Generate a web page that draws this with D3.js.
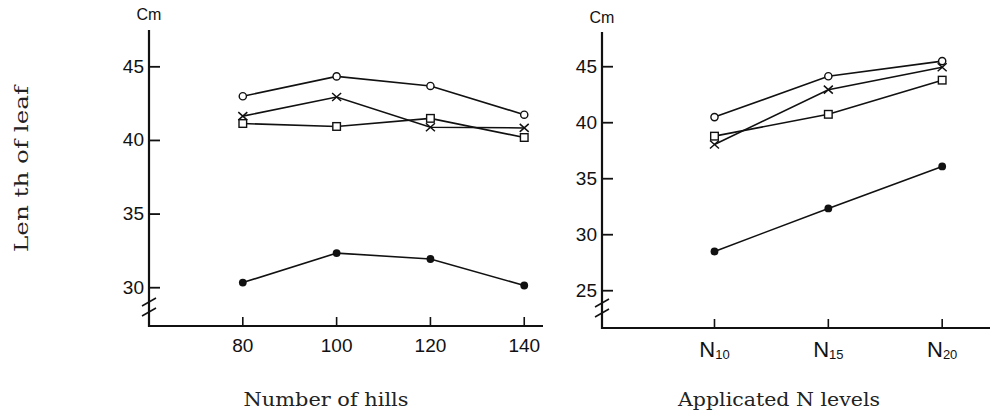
<!DOCTYPE html>
<html>
<head>
<meta charset="utf-8">
<script src="https://cdn.jsdelivr.net/npm/d3@7"></script>
<style>
  body { margin: 0; background: #fff; }
  svg { display: block; }
  .tick-label { font-family: "Liberation Sans Narrow", "Liberation Sans", sans-serif; font-size: 19px; fill: #111; }
  .title { font-family: "DejaVu Serif", "Liberation Serif", serif; font-size: 19px; fill: #222; }
</style>
</head>
<body>
<svg id="chart" width="994" height="417"></svg>
<script>
// left panel: number of hills
const hills = [80, 100, 120, 140];
const hillsCircle = [43.0, 44.35, 43.7, 41.75];
const hillsCross = [41.65, 42.95, 40.9, 40.85];
const hillsSquare = [41.15, 40.95, 41.5, 40.2];
const hillsFilled = [30.35, 32.35, 31.95, 30.15];
const hillsYTicks = [30, 35, 40, 45];

// right panel: applicated N levels
const nLevels = [10, 15, 20];
const nLabels = ["10", "15", "20"];
const nCircle = [40.5, 44.15, 45.5];
const nCross = [38.05, 42.95, 44.95];
const nSquare = [38.8, 40.75, 43.8];
const nFilled = [28.5, 32.35, 36.1];
const nYTicks = [25, 30, 35, 40, 45];

const svg = d3.select("#chart");

function drawMarker(g, type, cx, cy) {
  if (type === "circle") {
    g.append("circle").attr("cx", cx).attr("cy", cy).attr("r", 3.6)
      .attr("fill", "#fff").attr("stroke", "#111").attr("stroke-width", 1.4);
  } else if (type === "filled") {
    g.append("circle").attr("cx", cx).attr("cy", cy).attr("r", 3.9)
      .attr("fill", "#111");
  } else if (type === "square") {
    g.append("rect").attr("x", cx - 3.8).attr("y", cy - 3.8)
      .attr("width", 7.6).attr("height", 7.6)
      .attr("fill", "#fff").attr("stroke", "#111").attr("stroke-width", 1.4);
  } else if (type === "cross") {
    g.append("path")
      .attr("d", `M${cx - 4.5},${cy - 4}L${cx + 4.5},${cy + 4}M${cx - 4.5},${cy + 4}L${cx + 4.5},${cy - 4}`)
      .attr("stroke", "#111").attr("stroke-width", 1.5).attr("fill", "none");
  }
}

function drawPanel(opts) {
  const x = d3.scaleLinear().domain(opts.xDomain).range(opts.xRange);
  const y = d3.scaleLinear().domain(opts.yDomain).range(opts.yRange);
  const g = svg.append("g");
  const x0 = opts.xRange[0], yBase = opts.yRange[0];

  // y axis
  g.append("line").attr("x1", x0).attr("x2", x0)
    .attr("y1", opts.yRange[1]).attr("y2", yBase + 1)
    .attr("stroke", "#111").attr("stroke-width", 2.2);
  // x axis
  g.append("line").attr("x1", x0 - 1).attr("x2", opts.xRange[1])
    .attr("y1", yBase).attr("y2", yBase)
    .attr("stroke", "#111").attr("stroke-width", 2.2);

  // y ticks
  opts.yTicks.forEach(t => {
    g.append("line").attr("x1", x0).attr("x2", x0 + 11)
      .attr("y1", y(t)).attr("y2", y(t))
      .attr("stroke", "#111").attr("stroke-width", 1.8);
    g.append("text").attr("class", "tick-label")
      .attr("x", x0 - 5).attr("y", y(t) + 6)
      .attr("text-anchor", "end").text(t);
  });

  // x ticks
  opts.xTicks.forEach((t, i) => {
    g.append("line").attr("x1", x(t)).attr("x2", x(t))
      .attr("y1", yBase).attr("y2", yBase - 9)
      .attr("stroke", "#111").attr("stroke-width", 1.6);
    const lab = g.append("text").attr("class", "tick-label")
      .attr("x", x(t)).attr("y", yBase + opts.labelDy)
      .attr("text-anchor", "middle");
    if (opts.subLabels) {
      lab.append("tspan").text("N").style("font-size", "22px");
      lab.append("tspan").text(opts.subLabels[i])
        .attr("dy", 2).style("font-size", "13px");
    } else {
      lab.text(t);
    }
  });

  // axis break
  opts.breaks.forEach(b => {
    g.append("line").attr("x1", x0 - 7).attr("x2", x0 + 7)
      .attr("y1", b + 4).attr("y2", b - 4)
      .attr("stroke", "#111").attr("stroke-width", 1.6);
  });

  // unit label
  g.append("text").attr("class", "tick-label")
    .attr("x", x0).attr("y", opts.unitY)
    .attr("text-anchor", "middle").style("font-size", "16px").text("Cm");

  const line = d3.line().x(d => x(d[0])).y(d => y(d[1]));
  opts.series.forEach(s => {
    const pts = opts.xTicks.map((v, i) => [v, s.values[i]]);
    g.append("path").datum(pts).attr("d", line)
      .attr("fill", "none").attr("stroke", "#111").attr("stroke-width", 1.6);
  });
  opts.series.forEach(s => {
    opts.xTicks.forEach((v, i) => drawMarker(g, s.type, x(v), y(s.values[i])));
  });

  g.append("text").attr("class", "title")
    .attr("x", opts.titleX).attr("y", 406)
    .attr("text-anchor", "middle")
    .attr("textLength", opts.titleLen).attr("lengthAdjust", "spacingAndGlyphs")
    .text(opts.title);
}

drawPanel({
  xDomain: [60, 144], xRange: [149, 543],
  yDomain: [27.4, 47.5], yRange: [326, 30],
  xTicks: hills, yTicks: hillsYTicks, labelDy: 26,
  breaks: [302, 312], unitY: 20,
  series: [
    { type: "circle", values: hillsCircle },
    { type: "cross", values: hillsCross },
    { type: "square", values: hillsSquare },
    { type: "filled", values: hillsFilled }
  ],
  title: "Number of hills", titleX: 326, titleLen: 165
});

drawPanel({
  xDomain: [5.06, 22.1], xRange: [602, 990],
  yDomain: [21.67, 48.1], yRange: [328, 32],
  xTicks: nLevels, yTicks: nYTicks, labelDy: 29, subLabels: nLabels,
  breaks: [303, 313], unitY: 23,
  series: [
    { type: "circle", values: nCircle },
    { type: "cross", values: nCross },
    { type: "square", values: nSquare },
    { type: "filled", values: nFilled }
  ],
  title: "Applicated N levels", titleX: 779, titleLen: 202
});

svg.append("text").attr("class", "title")
  .attr("transform", "translate(28,169) rotate(-90)")
  .attr("text-anchor", "middle")
  .attr("textLength", 166).attr("lengthAdjust", "spacingAndGlyphs")
  .text("Len th of leaf");
</script>
</body>
</html>
